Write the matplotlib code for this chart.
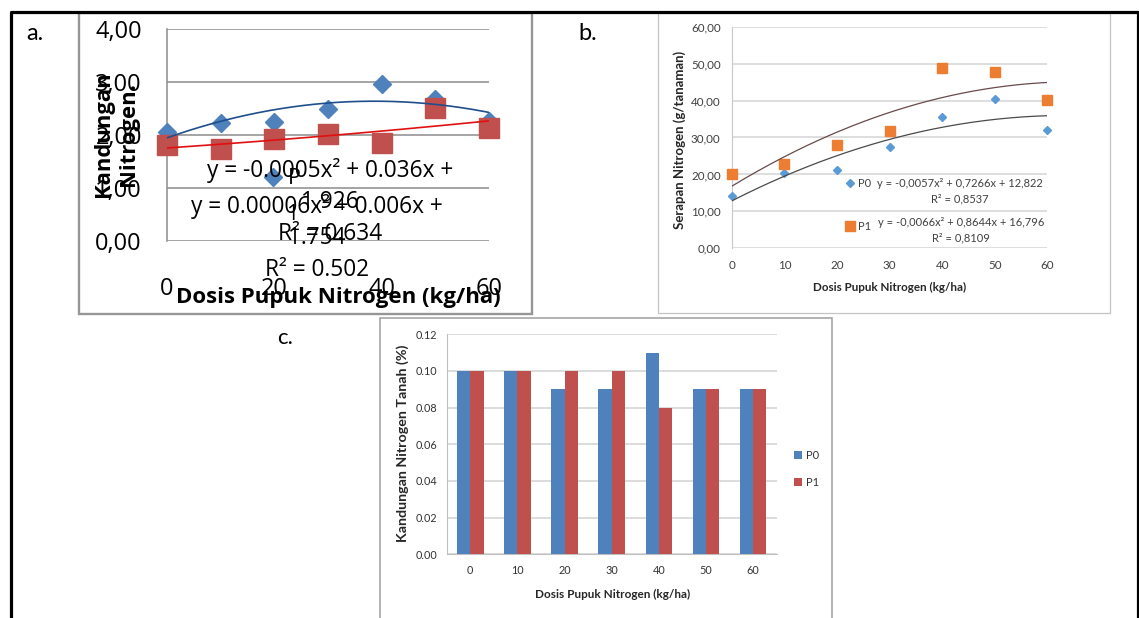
import numpy as np
import matplotlib
matplotlib.use('Agg')
import matplotlib.pyplot as plt
from matplotlib.patches import Rectangle
from matplotlib.lines import Line2D
from matplotlib.ticker import FuncFormatter

plt.rcParams['font.family'] = ['Lato', 'DejaVu Sans']
WIDE = ['Open Sans', 'DejaVu Sans']  # panel a is stretched wider in the source

dosis = [0, 10, 20, 30, 40, 50, 60]

# a. kandungan nitrogen (tanaman)
a_p0 = [2.06, 2.22, 2.25, 2.48, 2.96, 2.67, 2.27]
a_p1 = [1.81, 1.73, 1.93, 2.02, 1.85, 2.50, 2.12]
a_eq_p0 = 'y = -0.0005x² + 0.036x +\n1.926\nR² = 0.634'
a_eq_p1 = 'y = 0.00006x² + 0.006x +\n1.754\nR² = 0.502'

# b. serapan nitrogen
b_p0 = [14.2, 20.3, 21.1, 27.3, 35.5, 40.3, 32.0]
b_p1 = [20.0, 22.9, 27.9, 31.8, 48.7, 47.7, 40.1]
b_coef_p0 = [-0.0057, 0.7266, 12.822]
b_coef_p1 = [-0.0066, 0.8644, 16.796]
b_eq_p0 = 'y = -0,0057x² + 0,7266x + 12,822\nR² = 0,8537'
b_eq_p1 = 'y = -0,0066x² + 0,8644x + 16,796\nR² = 0,8109'

# c. kandungan nitrogen tanah
c_p0 = [0.10, 0.10, 0.09, 0.09, 0.11, 0.09, 0.09]
c_p1 = [0.10, 0.10, 0.10, 0.10, 0.08, 0.09, 0.09]

W, H = 1139, 618
fig = plt.figure(figsize=(W / 100, H / 100), dpi=100)


def fx(x):
    return x / W


def fy(y):
    return 1 - y / H


def rect(l, t, r, b):
    return [l / W, 1 - b / H, (r - l) / W, (b - t) / H]


def comma(v, _):
    return f'{v:.2f}'.replace('.', ',')


def box(l, t, r, b, color, lw):
    fig.add_artist(Rectangle((fx(l), fy(b)), (r - l) / W, (b - t) / H, transform=fig.transFigure,
                             fill=False, ec=color, lw=lw, zorder=0))


# outer frame and panel boxes
fig.add_artist(Line2D([fx(10.5), fx(10.5), fx(1137.5), fx(1137.5)], [fy(640), fy(11.5), fy(11.5), fy(640)],
                      transform=fig.transFigure, color='black', lw=2.3))
box(79, 13, 532, 314, '#969696', 1.7)
box(658, 13, 1110, 313, '#c4c4c4', 0.9)
box(380, 318, 832, 660, '#a6a6a6', 1.2)

fig.text(fx(35), fy(33), 'a.', fontsize=17, ha='center', va='center')
fig.text(fx(588), fy(33), 'b.', fontsize=17, ha='center', va='center')
fig.text(fx(285), fy(338), 'c.', fontsize=16, ha='center', va='center')

xs = np.linspace(0, 60, 200)

# ---- panel a
ax = fig.add_axes(rect(167, 29, 489, 240.7))
ax.set_facecolor('none')
ax.set_xlim(0, 60)
ax.set_ylim(0, 4)
ax.set_xticks([0, 20, 40, 60])
ax.set_yticks([0, 1, 2, 3, 4])
ax.yaxis.set_major_formatter(FuncFormatter(comma))
ax.grid(axis='y', color='#8c8c8c', lw=1.1)
ax.set_axisbelow(True)
for s in ['top', 'right', 'bottom']:
    ax.spines[s].set_visible(False)
ax.spines['left'].set_color('#8c8c8c')
ax.spines['left'].set_linewidth(1.1)
ax.tick_params(length=0, labelsize=17, labelfontfamily=WIDE)
ax.tick_params(axis='y', pad=18)
ax.tick_params(axis='x', pad=26)
l0, = ax.plot(dosis, a_p0, 'D', ms=8.8, color='#4f81bd', clip_on=False, zorder=3)
ax.plot(dosis, a_p1, 's', ms=14, color='#c0504d', clip_on=False, zorder=4)
ax.plot(xs, np.polyval(np.polyfit(dosis, a_p0, 2), xs), color='#1f4e8c', lw=1.2, zorder=5)
ax.plot(xs, np.polyval(np.polyfit(dosis, a_p1, 2), xs), color='#e01010', lw=1.2, zorder=5)
ax.set_xlabel('Dosis Pupuk Nitrogen (kg/ha)', fontsize=16, fontweight='bold', va='center', family=WIDE)
ax.xaxis.set_label_coords(fx(338), fy(297), transform=fig.transFigure)
ax.set_ylabel('Kandungan\nNitrogen.', fontsize=15.8, fontweight='bold', va='center', linespacing=1.25,
              family=WIDE)
ax.yaxis.set_label_coords(fx(116), fy(134), transform=fig.transFigure)
ax.legend([l0], ['P'], loc='center left', bbox_to_anchor=(fx(262), fy(179)), bbox_transform=fig.transFigure,
          frameon=False, prop={'family': WIDE, 'size': 15.5}, handlelength=1.0, handletextpad=0.2,
          borderpad=0, borderaxespad=0)
fig.text(fx(292), fy(215), '1', fontsize=15.5, ha='center', va='center', family=WIDE)
fig.text(fx(330), fy(202), a_eq_p0, fontsize=16.3, ha='center', va='center', linespacing=1.42, zorder=10,
         family=WIDE)
fig.text(fx(316.7), fy(238), a_eq_p1, fontsize=16.3, ha='center', va='center', linespacing=1.42, zorder=10,
         family=WIDE)

# ---- panel b
bx = fig.add_axes(rect(731.7, 26.7, 1047.4, 248.3))
bx.set_facecolor('none')
bx.set_xlim(0, 60)
bx.set_ylim(0, 60)
bx.set_xticks(dosis)
bx.set_yticks([0, 10, 20, 30, 40, 50, 60])
bx.yaxis.set_major_formatter(FuncFormatter(comma))
bx.grid(axis='y', color='#d4d4d4', lw=1.1)
bx.set_axisbelow(True)
for s in ['top', 'right', 'bottom']:
    bx.spines[s].set_visible(False)
bx.spines['left'].set_color('#c8c8c8')
bx.tick_params(length=0, labelsize=8.4, colors='#404040')
bx.tick_params(axis='y', pad=8)
bx.tick_params(axis='x', pad=8.5)
m0, = bx.plot(dosis, b_p0, 'D', ms=4.4, color='#5b9bd5', clip_on=False, zorder=3)
m1, = bx.plot(dosis, b_p1, 's', ms=7.2, color='#ed7d31', clip_on=False, zorder=3)
bx.plot(xs, np.polyval(b_coef_p0, xs), color='#4a4a4a', lw=0.9, zorder=4)
bx.plot(xs, np.polyval(b_coef_p1, xs), color='#6a4a4a', lw=0.9, zorder=4)
bx.set_xlabel('Dosis Pupuk Nitrogen (kg/ha)', fontsize=8.4, fontweight='bold', va='center', color='#262626')
bx.xaxis.set_label_coords(fx(889.6), fy(287), transform=fig.transFigure)
bx.set_ylabel('Serapan Nitrogen (g/tanaman)', fontsize=9.5, fontweight='bold', va='center', color='#262626')
bx.yaxis.set_label_coords(fx(680), fy(140), transform=fig.transFigure)
bx.legend([m0, m1], ['P0', 'P1'], loc='upper left', bbox_to_anchor=(fx(845.6), fy(177.5)),
          bbox_transform=fig.transFigure, frameon=False, fontsize=8, labelcolor='#404040',
          handlelength=0.8, handletextpad=0.3, borderpad=0, borderaxespad=0, labelspacing=2.9)
fig.text(fx(960), fy(191), b_eq_p0, fontsize=8, ha='center', va='center', linespacing=1.45, color='#404040')
fig.text(fx(961), fy(230.5), b_eq_p1, fontsize=8, ha='center', va='center', linespacing=1.45, color='#404040')

# ---- panel c
cx = fig.add_axes(rect(446.7, 334.3, 776.7, 554.3))
cx.set_facecolor('none')
idx = np.arange(len(dosis))
w = 0.283
cx.bar(idx - w / 2, c_p0, w, color='#4f81bd', label='P0', zorder=3)
cx.bar(idx + w / 2, c_p1, w, color='#c0504d', label='P1', zorder=3)
cx.set_xlim(-0.5, 6.5)
cx.set_ylim(0, 0.12)
cx.set_yticks([0, 0.02, 0.04, 0.06, 0.08, 0.10, 0.12])
cx.yaxis.set_major_formatter(FuncFormatter(lambda v, _: f'{v:.2f}'))
cx.set_xticks(idx)
cx.set_xticklabels([str(d) for d in dosis])
cx.grid(axis='y', color='#d9d9d9', lw=1.3)
cx.set_axisbelow(True)
for s in ['top', 'right']:
    cx.spines[s].set_visible(False)
cx.spines['left'].set_color('#bfbfbf')
cx.spines['bottom'].set_color('#bfbfbf')
cx.tick_params(length=0, labelsize=7.8, colors='#333333')
cx.tick_params(axis='y', pad=7)
cx.tick_params(axis='x', pad=8)
cx.set_xlabel('Dosis Pupuk Nitrogen (kg/ha)', fontsize=8.5, fontweight='bold', va='center', color='#262626')
cx.xaxis.set_label_coords(fx(613), fy(594), transform=fig.transFigure)
cx.set_ylabel('Kandungan Nitrogen Tanah (%)', fontsize=10.3, fontweight='bold', va='center', color='#262626')
cx.yaxis.set_label_coords(fx(403), fy(443), transform=fig.transFigure)
cx.legend(loc='upper left', bbox_to_anchor=(fx(794), fy(450)), bbox_transform=fig.transFigure,
          frameon=False, fontsize=8, labelcolor='#333333', handlelength=0.7, handleheight=0.7,
          handletextpad=0.4, borderpad=0, borderaxespad=0, labelspacing=1.4)

fig.savefig('out.png', dpi=100)
